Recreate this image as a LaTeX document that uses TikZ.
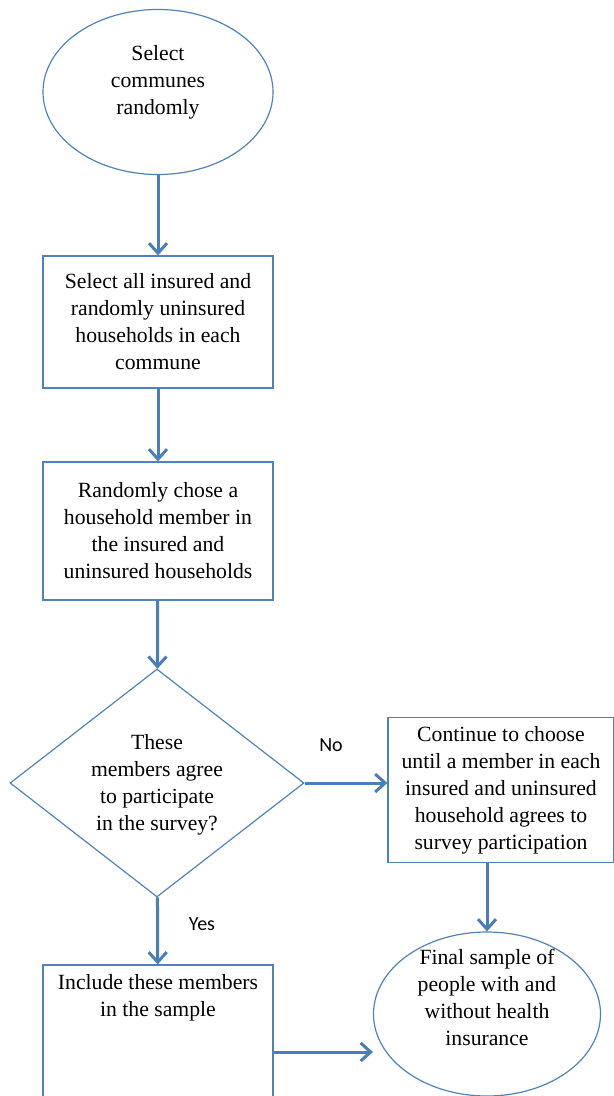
\documentclass[tikz,border=0pt]{standalone}
\usepackage{fontspec}
\setmainfont{Liberation Serif}
\newfontfamily\answerfont{Carlito}
\usetikzlibrary{arrows.meta,shapes.geometric}
\definecolor{lineblue}{RGB}{79,129,189}
\definecolor{arrowblue}{RGB}{74,126,187}

\begin{document}
\begin{tikzpicture}[x=0.5pt,y=-0.5pt]
    \tikzstyle{every node}=[font=\fontsize{10.85}{13.5}\selectfont, align=center]
    \tikzstyle{outline}=[draw=lineblue, line width=0.6pt, inner sep=0pt]
    \tikzstyle{flow}=[draw=arrowblue, line width=1.5pt, -{Straight Barb[length=5pt,width=9pt]}]
    \tikzstyle{answer}=[font=\answerfont\fontsize{10}{12}\selectfont]
    \useasboundingbox (0,0) rectangle (614,1096);

    \node[outline, ellipse, minimum width=115pt, minimum height=82.5pt] (select) at (158,92) {};
    \node (selecttxt) at (158,82) {Select\\communes\\randomly};
    \node[outline, rectangle, minimum width=115pt, minimum height=66pt] (allins) at (158,322)
        {Select all insured and\\randomly uninsured\\households in each\\commune};
    \node[outline, rectangle, minimum width=115pt, minimum height=69pt] (member) at (158,531)
        {Randomly chose a\\household member in\\the insured and\\uninsured households};
    \node[outline, diamond, minimum width=147pt, minimum height=114pt] (agree) at (157,783) {};
    \node (agreetxt) at (157,785) {These\\members agree\\to participate\\in the survey?};
    \node[outline, rectangle, minimum width=113pt, minimum height=72.5pt] (cont) at (501,790)
        {Continue to choose\\until a member in each\\insured and uninsured\\household agrees to\\survey participation};
    \node[outline, rectangle, minimum width=115pt, minimum height=66pt] (incl) at (158,1031) {};
    \node (incltxt) at (158,998) {Include these members\\in the sample};
    \node[outline, ellipse, minimum width=113.5pt, minimum height=82pt] (final) at (487,1014) {};
    \node (finaltxt) at (487,997) {Final sample of\\people with and\\without health\\insurance};
    \node[answer] (no) at (331,745) {No};
    \node[answer] (yes) at (202,924) {Yes};

    \draw[flow] (select) -- (allins);
    \draw[flow] (allins) -- (member);
    \draw[flow] (member) -- (agree);
    \draw[flow] (agree.east) -- (cont.west |- agree.east);
    \draw[flow] (agree) -- (incl);
    \draw[flow] (cont.south -| final.north) -- (final.north);
    \draw[flow] ([yshift=-10.5pt]incl.east) -- ([yshift=-10.5pt]incl.east -| final.west);
\end{tikzpicture}
\end{document}
